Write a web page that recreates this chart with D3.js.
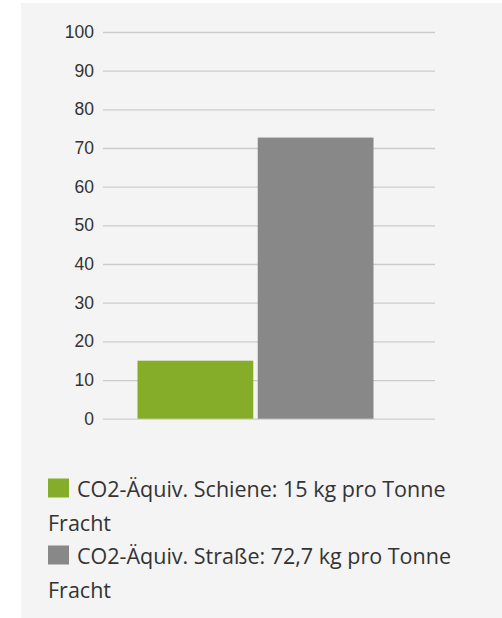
<!DOCTYPE html>
<html>
<head>
<meta charset="utf-8">
<script src="https://cdn.jsdelivr.net/npm/d3@7"></script>
<style>
html,body{margin:0;padding:0;background:#fff;}
svg{display:block;}
</style>
</head>
<body>
<svg id="chart" width="502" height="618"></svg>
<script>
const categories = ["Schiene", "Straße"];
const values = [15, 72.7];
const colors = ["#86ad29", "#888888"];
const legendLines = [
  ["CO2-Äquiv. Schiene: 15 kg pro Tonne", "Fracht"],
  ["CO2-Äquiv. Straße: 72,7 kg pro Tonne", "Fracht"]
];
const yTicks = [0, 10, 20, 30, 40, 50, 60, 70, 80, 90, 100];

const svg = d3.select("#chart");
svg.append("rect").attr("x", 21).attr("y", 3).attr("width", 481).attr("height", 615).attr("fill", "#f4f4f4");

const plotLeft = 103, plotRight = 435;
const y = d3.scaleLinear().domain([0, 100]).range([418.7, 32]);
const x = d3.scaleBand().domain(categories).range([137.5, 373.5]).paddingInner(0.037).paddingOuter(0);

const yAxis = d3.axisLeft(y).tickValues(yTicks).tickSize(-(plotRight - plotLeft)).tickPadding(9);
const ga = svg.append("g").attr("transform", `translate(${plotLeft},0)`).call(yAxis);
ga.select(".domain").remove();
ga.selectAll(".tick line").attr("stroke", "#cccccc").attr("stroke-width", 1.3);
ga.selectAll(".tick text").attr("fill", "#333").attr("font-family", "Arial, 'Liberation Sans', sans-serif").attr("font-size", 17.5);

svg.append("g").selectAll("rect").data(categories).join("rect")
  .attr("x", d => x(d))
  .attr("width", x.bandwidth())
  .attr("y", (d, i) => y(values[i]))
  .attr("height", (d, i) => y(0) - y(values[i]))
  .attr("fill", (d, i) => colors[i]);

const lg = svg.append("g").attr("font-family", "'Open Sans', 'Noto Sans', sans-serif").attr("font-size", 21.5).attr("fill", "#333");
const lineH = 33.5;
legendLines.forEach((lines, i) => {
  const base = 497 + i * 2 * lineH;
  lg.append("rect").attr("x", 48).attr("y", base - 18.5).attr("width", 21).attr("height", 19).attr("fill", colors[i]);
  lg.append("text").attr("x", 77).attr("y", base).text(lines[0]);
  lg.append("text").attr("x", 48).attr("y", base + lineH).text(lines[1]);
});
</script>
</body>
</html>
